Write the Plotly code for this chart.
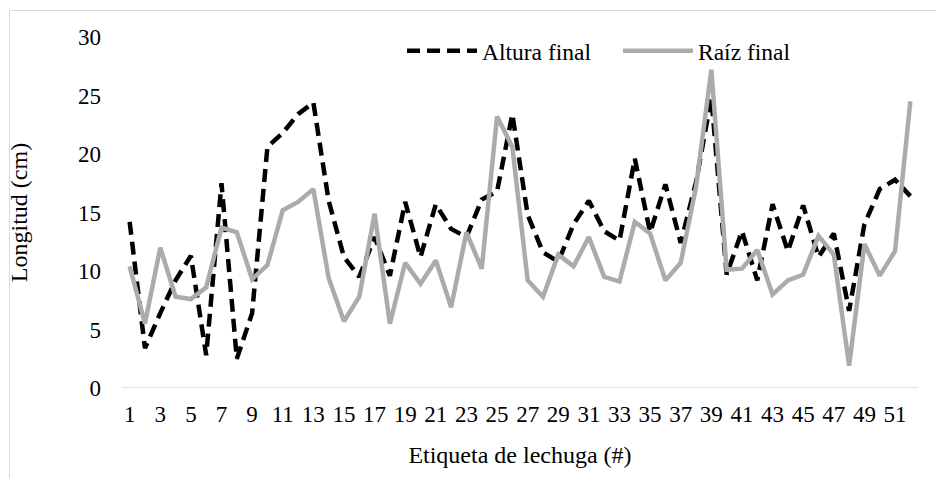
import plotly.graph_objects as go

# Lettuce labels 1..52
etiquetas = list(range(1, 53))

# Final plant height (cm)
altura_final = [14.2, 3.4, 6.4, 9.2, 11.3, 2.8, 17.5, 2.5, 6.4, 20.6,
                21.8, 23.4, 24.4, 16.0, 11.2, 9.5, 12.9, 9.6, 15.9, 11.2,
                15.7, 13.6, 12.9, 16.1, 16.8, 23.4, 14.8, 11.6, 10.8, 14.0,
                16.0, 13.4, 12.6, 19.6, 13.3, 17.4, 12.4, 17.6, 24.8, 9.7,
                13.4, 9.2, 15.7, 11.7, 15.6, 11.2, 13.2, 6.6, 14.0, 17.0,
                17.8, 16.4]

# Final root length (cm)
raiz_final = [10.4, 5.5, 12.0, 7.8, 7.6, 8.6, 13.7, 13.3, 9.3, 10.5,
              15.2, 15.9, 17.0, 9.4, 5.7, 7.8, 14.9, 5.5, 10.7, 8.9,
              10.9, 6.9, 13.3, 10.2, 23.2, 20.6, 9.2, 7.8, 11.4, 10.4,
              12.9, 9.5, 9.1, 14.2, 13.2, 9.2, 10.7, 17.2, 27.2, 10.1,
              10.2, 11.8, 8.0, 9.2, 9.7, 13.0, 11.4, 1.9, 12.3, 9.6,
              11.7, 24.5]

y_ticks = [0, 5, 10, 15, 20, 25, 30]
x_ticks = list(range(1, 53, 2))

FONT = "Liberation Serif"

fig = go.Figure()
fig.add_trace(go.Scatter(
    x=etiquetas, y=altura_final, mode="lines", name="Altura final",
    line=dict(color="#000000", width=4.5, dash="13px,7px"),
))
fig.add_trace(go.Scatter(
    x=etiquetas, y=raiz_final, mode="lines", name="Raíz final",
    line=dict(color="#AEAAAA", width=4.5),
))

L, R, T, B = 122, 18, 37, 90
W, H = 936, 478
pw, ph = W - L - R, H - T - B


def px_x(px):
    return (px - L) / pw


def px_y(py):
    return (H - B - py) / ph


# chart-area frame (top and left edges)
frame = dict(color="#D9D9D9", width=1)
fig.add_shape(type="line", xref="paper", yref="paper",
              x0=px_x(9.5), x1=px_x(W + 5), y0=px_y(10.5), y1=px_y(10.5), line=frame)
fig.add_shape(type="line", xref="paper", yref="paper",
              x0=px_x(9.5), x1=px_x(9.5), y0=px_y(10.5), y1=px_y(H + 5), line=frame)

fig.update_layout(
    width=W, height=H,
    margin=dict(l=L, r=R, t=T, b=B),
    paper_bgcolor="white", plot_bgcolor="white",
    font=dict(family=FONT, size=23, color="#000000"),
    showlegend=True,
    legend=dict(
        orientation="h", x=px_x(402), xanchor="left",
        y=px_y(51), yanchor="middle",
        font=dict(family=FONT, size=23.5),
        itemwidth=70, entrywidth=131, entrywidthmode="pixels",
        bgcolor="rgba(0,0,0,0)",
    ),
    xaxis=dict(
        range=[0.5, 52.5], tickmode="array", tickvals=x_ticks,
        ticktext=[str(v) for v in x_ticks],
        showgrid=False, zeroline=False, showline=False, ticks="",
        tickfont=dict(family=FONT, size=23), ticklabelstandoff=10,
        title=dict(text="Etiqueta de lechuga (#)", font=dict(family=FONT, size=24), standoff=20),
    ),
    yaxis=dict(
        range=[0, 30], tickmode="array", tickvals=y_ticks,
        showgrid=False, zeroline=False, showline=False, ticks="",
        tickfont=dict(family=FONT, size=23), ticklabelstandoff=20,
        title=dict(text="Longitud (cm)", font=dict(family=FONT, size=24), standoff=43),
    ),
)

# horizontal axis line at y = 0
fig.add_shape(type="line", xref="x", yref="y", x0=0.5, x1=52.5, y0=0, y1=0,
              line=dict(color="#D9D9D9", width=1.5), layer="below")

fig.write_html("out.html")
